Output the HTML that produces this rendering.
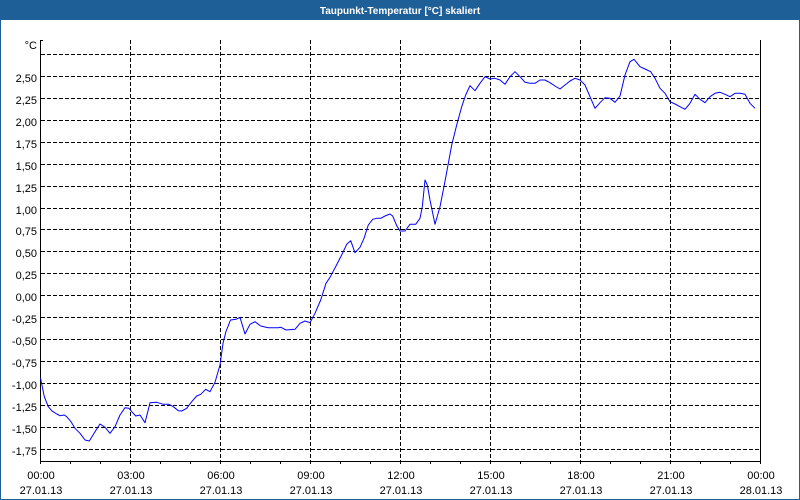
<!DOCTYPE html>
<html><head><meta charset="utf-8"><style>
html,body{margin:0;padding:0;background:#fff;}
body{width:800px;height:500px;overflow:hidden;}
svg{display:block;}
text{font-family:"Liberation Sans",Arial,sans-serif;}
</style></head><body>
<svg width="800" height="500" viewBox="0 0 800 500" xmlns="http://www.w3.org/2000/svg">
<rect x="0" y="0" width="800" height="500" fill="#ffffff"/>
<rect x="0.5" y="0.5" width="799" height="499" fill="none" stroke="#1d5f96" stroke-width="1"/>
<rect x="0" y="0" width="800" height="20" fill="#1d5f96"/>
<text x="400" y="14" fill="#ffffff" font-size="10" font-weight="bold" text-anchor="middle">Taupunkt-Temperatur [°C] skaliert</text>

<g shape-rendering="crispEdges" stroke="#000" stroke-width="1" fill="none">
<!-- horizontal dashed grid -->
<g stroke-dasharray="4,2">
<line x1="41" y1="54.5" x2="760" y2="54.5"/>
<line x1="41" y1="76.5" x2="760" y2="76.5"/>
<line x1="41" y1="98.5" x2="760" y2="98.5"/>
<line x1="41" y1="120.5" x2="760" y2="120.5"/>
<line x1="41" y1="142.5" x2="760" y2="142.5"/>
<line x1="41" y1="164.5" x2="760" y2="164.5"/>
<line x1="41" y1="186.5" x2="760" y2="186.5"/>
<line x1="41" y1="208.5" x2="760" y2="208.5"/>
<line x1="41" y1="229.5" x2="760" y2="229.5"/>
<line x1="41" y1="251.5" x2="760" y2="251.5"/>
<line x1="41" y1="273.5" x2="760" y2="273.5"/>
<line x1="41" y1="295.5" x2="760" y2="295.5"/>
<line x1="41" y1="317.5" x2="760" y2="317.5"/>
<line x1="41" y1="339.5" x2="760" y2="339.5"/>
<line x1="41" y1="361.5" x2="760" y2="361.5"/>
<line x1="41" y1="383.5" x2="760" y2="383.5"/>
<line x1="41" y1="405.5" x2="760" y2="405.5"/>
<line x1="41" y1="427.5" x2="760" y2="427.5"/>
<line x1="41" y1="449.5" x2="760" y2="449.5"/>
<!-- vertical dashed grid -->
<line x1="130.5" y1="40" x2="130.5" y2="461"/>
<line x1="220.5" y1="40" x2="220.5" y2="461"/>
<line x1="310.5" y1="40" x2="310.5" y2="461"/>
<line x1="400.5" y1="40" x2="400.5" y2="461"/>
<line x1="490.5" y1="40" x2="490.5" y2="461"/>
<line x1="580.5" y1="40" x2="580.5" y2="461"/>
<line x1="670.5" y1="40" x2="670.5" y2="461"/>
</g>
<!-- axes -->
<line x1="40.5" y1="40" x2="40.5" y2="464"/>
<line x1="760.5" y1="40" x2="760.5" y2="464"/>
<line x1="40" y1="461.5" x2="761" y2="461.5"/>
<line x1="40" y1="40.5" x2="43" y2="40.5"/>
<!-- hour ticks -->
<path d="M70.5 461V464M100.5 461V464M130.5 461V464M160.5 461V464M190.5 461V464M220.5 461V464M250.5 461V464M280.5 461V464M310.5 461V464M340.5 461V464M370.5 461V464M400.5 461V464M430.5 461V464M460.5 461V464M490.5 461V464M520.5 461V464M550.5 461V464M580.5 461V464M610.5 461V464M640.5 461V464M670.5 461V464M700.5 461V464M730.5 461V464"/>
</g>

<!-- y labels -->
<g font-size="11" fill="#000" text-anchor="end">
<text x="37" y="49">°C</text>
<text x="37" y="82">2,50</text>
<text x="37" y="104">2,25</text>
<text x="37" y="126">2,00</text>
<text x="37" y="148">1,75</text>
<text x="37" y="170">1,50</text>
<text x="37" y="192">1,25</text>
<text x="37" y="214">1,00</text>
<text x="37" y="235">0,75</text>
<text x="37" y="257">0,50</text>
<text x="37" y="279">0,25</text>
<text x="37" y="301">0,00</text>
<text x="37" y="323">-0,25</text>
<text x="37" y="345">-0,50</text>
<text x="37" y="367">-0,75</text>
<text x="37" y="389">-1,00</text>
<text x="37" y="411">-1,25</text>
<text x="37" y="433">-1,50</text>
<text x="37" y="455">-1,75</text>
</g>

<!-- x labels -->
<g font-size="11" fill="#000" text-anchor="middle">
<text x="41" y="479">00:00</text><text x="41" y="494">27.01.13</text>
<text x="131" y="479">03:00</text><text x="131" y="494">27.01.13</text>
<text x="221" y="479">06:00</text><text x="221" y="494">27.01.13</text>
<text x="311" y="479">09:00</text><text x="311" y="494">27.01.13</text>
<text x="401" y="479">12:00</text><text x="401" y="494">27.01.13</text>
<text x="491" y="479">15:00</text><text x="491" y="494">27.01.13</text>
<text x="581" y="479">18:00</text><text x="581" y="494">27.01.13</text>
<text x="671" y="479">21:00</text><text x="671" y="494">27.01.13</text>
<text x="761" y="479">00:00</text><text x="761" y="494">28.01.13</text>
</g>

<!-- data line -->
<polyline fill="none" stroke="#0000ff" stroke-width="1" stroke-linejoin="round" points="
40.5,378 44.3,396.7 48.3,406.7 51.7,410.7 56.7,414 60,415.7 64.3,415 66.7,416.7 71,421.7 75,428.3 80,433.3 85,440 89.3,441 95,431.7 100,424 105,427.3 110,433.3 115,426.7 120,415 125,407.7 129,408.3 131.7,411.7 135.7,416 140,415 145,422.7 150,402.7 156.7,402.3 163.3,404.3 169,404.3 173.3,406.7 178.3,410.7 181.7,411 186.7,408.3 191.7,401.7 196.7,396 200.7,394.3 205.7,389.3 210,391.7 215,382.3 220,365 223,343.3 226,331.5 230.5,320 236,319.3 240,317.3 245,334 250,324.3 255,321.7 260.7,326 268.3,327.7 278.3,327.7 281,327.3 286,330 295,329.3 300,323.3 305,321 310,322.7 315,313.3 320.7,300 326,283.3 330,277.3 336,266 341.7,255 346.7,244.3 350.7,240.7 355,252.7 360,247.3 364,238.3 368.3,225 372.7,219.3 376.7,218.3 380.7,218.3 385,216 390,214 392.7,216 396.7,225.7 400,231 405,231 410,224.3 415.7,224.3 420,218.3 422.3,206.7 425,180 427.3,185 430,200 435,224.3 440,206.7 444.3,185 447.7,166.7 451.7,145 456.7,125 461.7,106.7 465.7,95 470,85.7 475,90.7 480,83.3 485,76.7 490,79 495,78.3 500,80 505,84.3 510,76.7 515,71.7 520,76.7 525,82.3 530,83.3 535,83.3 540,80 545,80 550,82.7 555,86 560,89 565,85 570,81 575,78.3 580,80 585,85 590,96.7 595,108.3 600,102.7 605,97.7 610,98.3 615,102.3 620,96 625,75 630,61.7 634,59.3 640,66.7 645,69 650.7,71.7 655,78.3 660,88.3 665,93.3 670,101.7 675,104 680,106.7 685,109.3 690,103.3 695,94.3 700,99.3 705,102.7 710,96.7 715,93.3 720,92.3 725,94.3 730,96.7 735,93.3 740,93.3 745,94.3 750,103.3 755,108.3"/>
</svg>
</body></html>
